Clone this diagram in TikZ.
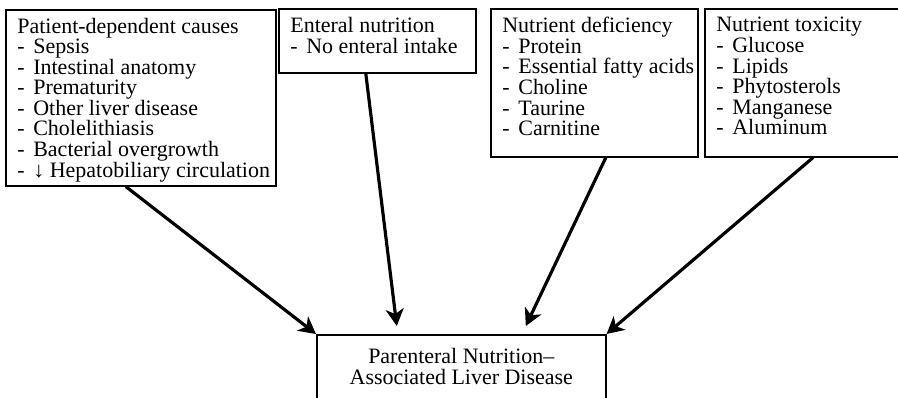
\documentclass[tikz,border=0pt]{standalone}
\usepackage{fontspec}
\setmainfont{Liberation Serif}
\usetikzlibrary{arrows.meta,positioning}

% one line of a list inside a box
\newcommand{\bul}[1]{\makebox[0.32cm][l]{-}#1}

\tikzset{
  causebox/.style={draw, line width=0.9pt, anchor=north west, inner sep=0pt},
  boxtext/.style={align=left, inner sep=0pt, anchor=north west,
    font=\fontsize{12.5}{11.7}\selectfont},
  cause/.style={-{Stealth[length=0.34cm,width=0.36cm,inset=0.1cm]}, line width=1.8pt},
}

\begin{document}
\begin{tikzpicture}[scale=1]
    \useasboundingbox (0,0) rectangle (17.96,7.94);
    \clip (0,0) rectangle (17.96,7.94);

    %===== Causes =====%
    \node[causebox, minimum width=5.40cm, minimum height=3.52cm] (pat) at (0.10,7.76) {};
    \node[boxtext, below right=0.17cm and 0.24cm of pat.north west] (pat-t)
      {Patient-dependent causes\\
       \bul{Sepsis}\\
       \bul{Intestinal anatomy}\\
       \bul{Prematurity}\\
       \bul{Other liver disease}\\
       \bul{Cholelithiasis}\\
       \bul{Bacterial overgrowth}\\
       \bul{↓ Hepatobiliary circulation}};

    \node[causebox, minimum width=3.94cm, minimum height=1.28cm] (ent) at (5.56,7.78) {};
    \node[boxtext, below right=0.18cm and 0.24cm of ent.north west] (ent-t)
      {Enteral nutrition\\
       \bul{No enteral intake}};

    \node[causebox, minimum width=4.14cm, minimum height=2.96cm] (def) at (9.80,7.78) {};
    \node[boxtext, below right=0.18cm and 0.24cm of def.north west] (def-t)
      {Nutrient deficiency\\
       \bul{Protein}\\
       \bul{Essential fatty acids}\\
       \bul{Choline}\\
       \bul{Taurine}\\
       \bul{Carnitine}};

    \node[causebox, minimum width=4.30cm, minimum height=2.96cm] (tox) at (14.08,7.78) {};
    \node[boxtext, below right=0.18cm and 0.24cm of tox.north west] (tox-t)
      {Nutrient toxicity\\
       \bul{Glucose}\\
       \bul{Lipids}\\
       \bul{Phytosterols}\\
       \bul{Manganese}\\
       \bul{Aluminum}};

    %===== Outcome =====%
    \node[causebox, minimum width=5.78cm, minimum height=1.60cm] (liver) at (6.32,1.26) {};
    \node[boxtext, align=center, below=0.28cm of liver.north] (liver-t)
      {Parenteral Nutrition–\\Associated Liver Disease};

    % arrows into the outcome
    \draw[cause] ([xshift=-0.30cm]pat.south) -- (liver.north west);
    \draw[cause] ([xshift=-0.23cm]ent.south) -- ([xshift=-1.29cm,yshift=0.16cm]liver.north);
    \draw[cause] ([xshift=0.23cm]def.south) -- ([xshift=1.29cm,yshift=0.16cm]liver.north);
    \draw[cause] ([xshift=2.18cm]tox.south west) -- (liver.north east);
\end{tikzpicture}
\end{document}
